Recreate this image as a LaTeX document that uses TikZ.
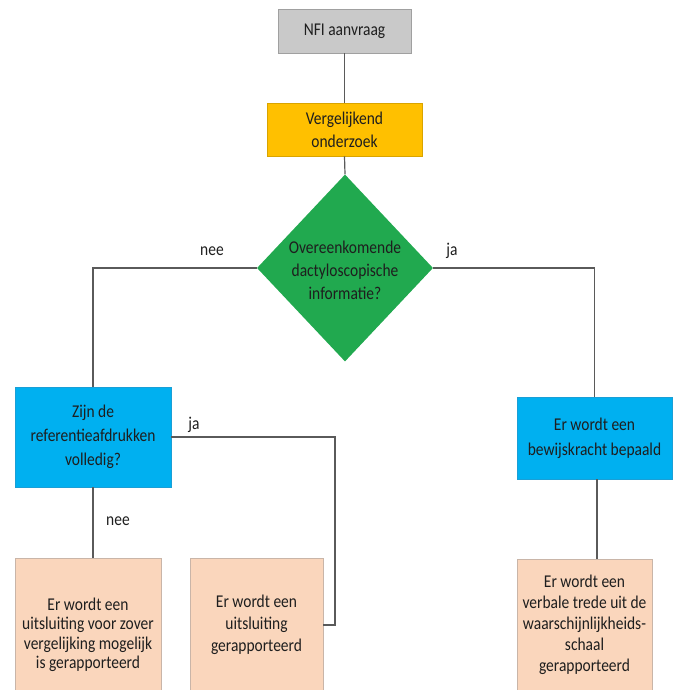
\documentclass[tikz,border=0pt]{standalone}
\usepackage{fontspec}
\setmainfont[FakeStretch=0.86]{Carlito}
\usetikzlibrary{shapes.geometric}
\definecolor{txt}{HTML}{1E1E1E}
\definecolor{ln}{HTML}{5A5A5A}
\definecolor{grayfill}{HTML}{C9C9C9}
\definecolor{graydraw}{HTML}{A0A0A0}
\definecolor{orangefill}{HTML}{FFC000}
\definecolor{orangedraw}{HTML}{D9A400}
\definecolor{greenfill}{HTML}{21A94F}
\definecolor{bluefill}{HTML}{00B0F0}
\definecolor{bluedraw}{HTML}{1A9FD6}
\definecolor{peachfill}{HTML}{FAD6BC}
\definecolor{peachdraw}{HTML}{C9B5A8}
\tikzset{
  box/.style={rectangle, inner sep=0pt, align=center, text=txt, line width=0.8pt},
  graybox/.style={box, fill=grayfill, draw=graydraw},
  orangebox/.style={box, fill=orangefill, draw=orangedraw},
  bluebox/.style={box, fill=bluefill, draw=bluedraw},
  peachbox/.style={box, fill=peachfill, draw=peachdraw},
  decision/.style={diamond, fill=greenfill, draw=none, inner sep=0pt},
  conn/.style={draw=ln, line width=1.2pt},
  lab/.style={text=txt, inner sep=0pt}
}
\begin{document}
\begin{tikzpicture}[x=1pt,y=-1pt]
\fontsize{18}{21}\selectfont
\useasboundingbox (0,0) rectangle (676,690);
% nodes
\node[graybox, minimum width=133pt, minimum height=44pt] (nfi) at (344.5,31) {NFI aanvraag};
\node[orangebox, minimum width=155pt, minimum height=53pt, font=\fontsize{18}{23}\selectfont] (verg) at (344.5,129.5) {Vergelijkend\\onderzoek};
\node[decision, minimum width=176pt, minimum height=187pt] (dia) at (345,268) {};
\node[lab, align=center, font=\fontsize{18}{23}\selectfont] (diat) at (345,270) {Overeenkomende\\dactyloscopische\\informatie?};
\node[bluebox, minimum width=156pt, minimum height=100pt, font=\fontsize{18}{24}\selectfont] (zijn) at (93,437) {Zijn de\\referentieafdrukken\\volledig?};
\node[bluebox, minimum width=155pt, minimum height=82pt, font=\fontsize{18}{25}\selectfont] (bew) at (594.5,438) {Er wordt een\\bewijskracht bepaald};
\node[peachbox, minimum width=146pt, minimum height=154pt, font=\fontsize{18}{19.5}\selectfont] (p1) at (88,635) {Er wordt een\\uitsluiting voor zover\\vergelijking mogelijk\\is gerapporteerd};
\node[peachbox, minimum width=133pt, minimum height=134pt, font=\fontsize{18}{22}\selectfont] (p2) at (256.5,625) {Er wordt een\\uitsluiting\\gerapporteerd};
\node[peachbox, minimum width=135pt, minimum height=132pt, font=\fontsize{18}{21}\selectfont] (p3) at (584.5,625) {Er wordt een\\verbale trede uit de\\waarschijnlijkheids-\\schaal\\gerapporteerd};
\coordinate (jr) at (335,437);
% connectors
\draw[conn] (nfi.south) -- (verg.north);
\draw[conn] (verg.south) -- (dia.north);
\draw[conn] (dia.west) -| (zijn.north);
\draw[conn] (dia.east) -| (bew.north);
\draw[conn] (zijn.south) -- (zijn.south |- p1.north);
\draw[conn] (zijn.east) -- (jr) |- (p2.east);
\draw[conn] ([xshift=2.5pt]bew.south) -- ([xshift=2.5pt]bew.south |- p3.north);
% labels
\node[lab] (l1) at (212,251) {nee};
\node[lab] (l2) at (452,251) {ja};
\node[lab] (l3) at (194,425) {ja};
\node[lab] (l4) at (118,521) {nee};
\end{tikzpicture}
\end{document}
